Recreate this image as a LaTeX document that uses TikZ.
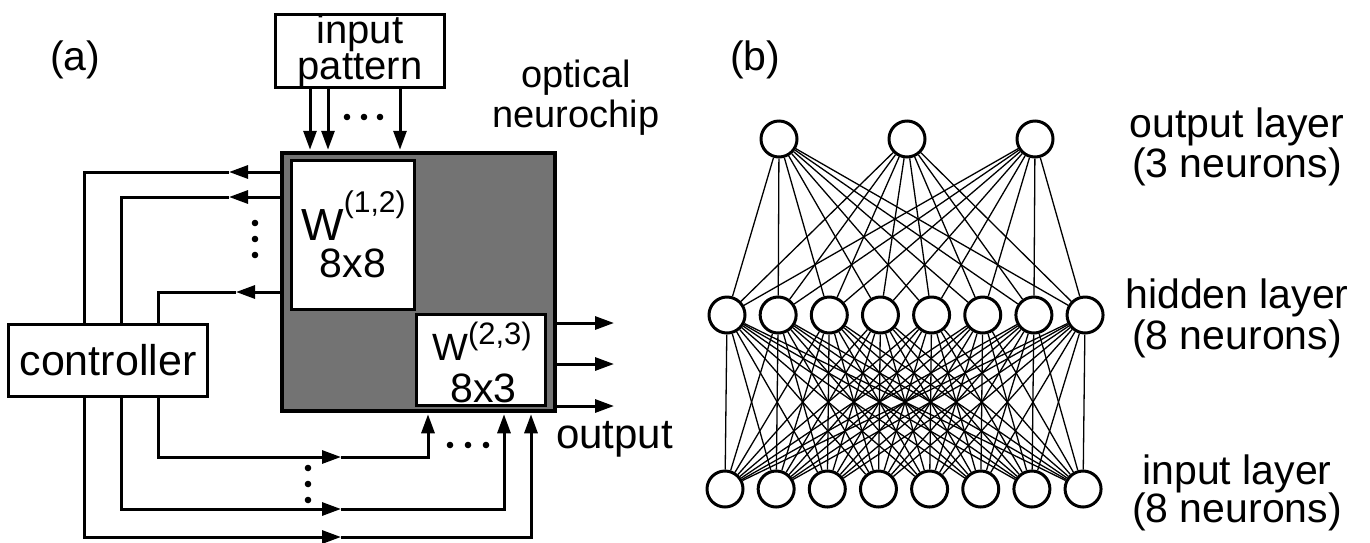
\documentclass[tikz,border=0pt]{standalone}
\usepackage{fontspec}
\setmainfont{Liberation Sans}
\usetikzlibrary{arrows.meta}
\newcommand\setsz[1]{\fontsize{#1}{#1}\selectfont}
\begin{document}
\begin{tikzpicture}[x=1pt, y=-1pt,
  wire/.style={line width=3pt},
  arr/.style={wire, -{Triangle[length=19pt,width=13pt]}},
  box/.style={draw, line width=3pt, inner sep=0pt, fill=white},
  lbl/.style={inner sep=0pt, anchor=base},
  neuron/.style={circle, draw, line width=3pt, fill=white, minimum size=36pt, inner sep=0pt},
  syn/.style={line width=1.3pt},
  dotmark/.style={fill=black},
]
\useasboundingbox (0,0) rectangle (1370,542);
\fill[white] (0,0) rectangle (1370,542);

% ---------- panel (a): optical neurochip with controller ----------
\node[lbl, anchor=base west, font=\setsz{41}] (lab-a) at (50,70) {(a)};

% chip with its two weight blocks
\node[draw, line width=4.5pt, fill=black!55, minimum width=273pt, minimum height=258pt, inner sep=0pt] (chip) at (418.5,282) {};
\node[box, line width=3.2pt, minimum width=123pt, minimum height=149pt] (w12) at (353,235) {};
\node[box, line width=3.2pt, minimum width=129pt, minimum height=91pt] (w23) at (481,360) {};
\node[lbl, font=\setsz{45}] (w12name) at (353.5,240) {W\raisebox{28pt}{\setsz{30}(1,2)}};
\node[lbl, font=\setsz{41}] (w12size) at (353,277) {8x8};
\node[lbl, font=\setsz{38}] (w23name) at (482,360) {W\raisebox{16pt}{\setsz{31}(2,3)}};
\node[lbl, font=\setsz{41}] (w23size) at (483.5,402) {8x3};

\node[lbl, font=\setsz{38}] (chiplbl1) at (576,87) {optical};
\node[lbl, font=\setsz{38}] (chiplbl2) at (576,127) {neurochip};

% input pattern feeding the chip
\node[box, minimum width=169pt, minimum height=73pt, align=center,
      font=\fontsize{40}{36}\selectfont] (inp) at (360,51) {input\\pattern};
\foreach \x in {310,328,400}
  \draw[arr, shorten >=1pt] (inp.south -| \x,0) -- (chip.north -| \x,0);
\foreach \x in {347,364,380} \fill[dotmark] (\x,117) circle (3.3pt);

% controller
\node[box, minimum width=199pt, minimum height=72pt, font=\setsz{43}] (ctrl) at (108,360.5) {controller};

% read-out lines from the chip back to the controller
\coordinate (l1) at (229,172);
\coordinate (l2) at (229,197);
\coordinate (l3) at (236,292);
\draw[arr] (chip.west |- 0,172) -- (l1);
\draw[wire] (l1) -| (ctrl.north -| 84,0);
\draw[arr] (chip.west |- 0,197) -- (l2);
\draw[wire] (l2) -| (ctrl.north -| 121,0);
\draw[arr] (chip.west |- 0,292) -- (l3);
\draw[wire] (l3) -| (ctrl.north -| 158,0);
\foreach \y in {223,239,255} \fill[dotmark] (255,\y) circle (3.3pt);

% control lines from the controller into the chip
\coordinate (b1) at (341,457);
\coordinate (b2) at (341,509);
\coordinate (b3) at (341,537);
\draw[arr] (ctrl.south -| 158,0) |- (b1);
\draw[arr, shorten >=1pt] (b1) -| (chip.south -| 428,0);
\draw[arr] (ctrl.south -| 121,0) |- (b2);
\draw[arr, shorten >=1pt] (b2) -| (chip.south -| 504,0);
\draw[arr] (ctrl.south -| 84,0) |- (b3);
\draw[arr, shorten >=1pt] (b3) -| (chip.south -| 531,0);
\foreach \y in {468,484,500} \fill[dotmark] (308,\y) circle (3.3pt);
\foreach \x in {450,468,486} \fill[dotmark] (\x,445) circle (3.3pt);

% outputs
\foreach \y [count=\k] in {323,364,406} {
  \coordinate (q\k) at (614,\y);
  \draw[arr] (chip.east |- 0,\y) -- (q\k);
}
\node[lbl, anchor=base west, font=\setsz{42}] (outlbl) at (556,448) {output};

% ---------- panel (b): three-layer network ----------
\node[lbl, anchor=base west, font=\setsz{41}] (lab-b) at (730,70) {(b)};

\foreach \k in {1,...,8} \node[neuron] (h\k) at ({727+51.15*(\k-1)},315) {};
\foreach \k in {1,...,8} \node[neuron] (i\k) at ({725+51.15*(\k-1)},489) {};
\foreach \k/\x in {1/779,2/907,3/1035} \node[neuron] (o\k) at (\x,139) {};

\foreach \a in {1,...,8} {
  \foreach \b in {1,...,8} \draw[syn] (i\a) -- (h\b);
  \foreach \b in {1,2,3} \draw[syn] (h\a) -- (o\b);
}

\node[lbl, font=\setsz{41}] (olay1) at (1237,137) {output layer};
\node[lbl, font=\setsz{41}] (olay2) at (1237,177) {(3 neurons)};
\node[lbl, font=\setsz{41}] (hlay1) at (1237,308) {hidden layer};
\node[lbl, font=\setsz{41}] (hlay2) at (1237,349) {(8 neurons)};
\node[lbl, font=\setsz{41}] (ilay1) at (1237,484) {input layer};
\node[lbl, font=\setsz{41}] (ilay2) at (1237,522) {(8 neurons)};
\end{tikzpicture}
\end{document}
